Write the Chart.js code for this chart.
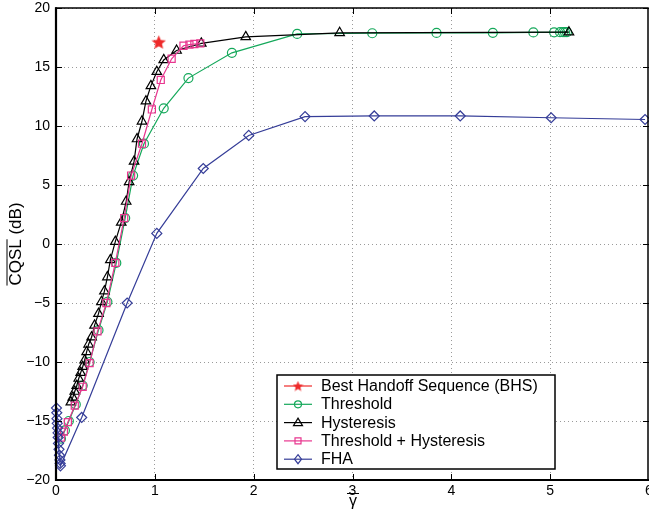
<!DOCTYPE html>
<html>
<head>
<meta charset="utf-8">
<script src="https://cdn.jsdelivr.net/npm/chart.js@4"></script>
<style>
  html, body { margin: 0; padding: 0; background: #fff; }
  canvas { display: block; }
</style>
</head>
<body>
<canvas id="cqslChart" width="649" height="515"></canvas>
<script>
// axis ticks
const xTicks = [0, 1, 2, 3, 4, 5, 6];
const yTicks = [-20, -15, -10, -5, 0, 5, 10, 15, 20];

// Best Handoff Sequence (BHS)
const bhsX = [1.04];
const bhsY = [17.1];

// Threshold
const thrX = [0.05, 0.09, 0.13, 0.20, 0.27, 0.34, 0.43, 0.52, 0.61, 0.70, 0.78, 0.89, 1.09, 1.34, 1.78, 2.44, 3.20, 3.85, 4.42, 4.83, 5.04, 5.10, 5.13, 5.15, 5.17];
const thrY = [-16.5, -15.8, -15.0, -13.6, -12.0, -10.0, -7.3, -4.9, -1.6, 2.2, 5.8, 8.5, 11.5, 14.06, 16.2, 17.8, 17.86, 17.89, 17.9, 17.93, 17.94, 17.95, 17.95, 17.95, 17.95];

// Hysteresis
const hysX = [0.15, 0.17, 0.19, 0.21, 0.23, 0.25, 0.27, 0.29, 0.31, 0.33, 0.36, 0.39, 0.43, 0.46, 0.49, 0.52, 0.55, 0.60, 0.66, 0.71, 0.74, 0.79, 0.82, 0.87, 0.91, 0.96, 1.02, 1.09, 1.22, 1.47, 1.92, 2.87, 5.19];
const hysY = [-13.4, -13.0, -12.5, -12.0, -11.4, -10.9, -10.4, -9.85, -9.15, -8.5, -7.9, -6.9, -5.9, -4.9, -4.0, -2.8, -1.35, 0.2, 1.83, 3.6, 5.26, 7.0, 8.9, 10.4, 12.1, 13.4, 14.6, 15.6, 16.4, 17.0, 17.55, 17.9, 17.95];

// Threshold + Hysteresis
const thhX = [0.05, 0.08, 0.12, 0.19, 0.27, 0.34, 0.42, 0.51, 0.60, 0.69, 0.76, 0.87, 0.97, 1.06, 1.17, 1.29, 1.35, 1.40, 1.46];
const thhY = [-16.4, -15.9, -15.1, -13.7, -12.1, -10.1, -7.4, -5.0, -1.6, 2.2, 5.8, 8.5, 11.4, 13.9, 15.7, 16.8, 16.9, 16.95, 17.0];

// FHA
const fhaX = [0.005, 0.008, 0.01, 0.012, 0.015, 0.02, 0.022, 0.025, 0.03, 0.035, 0.04, 0.042, 0.045, 0.26, 0.72, 1.02, 1.49, 1.95, 2.52, 3.22, 4.09, 5.01, 5.96];
const fhaY = [-13.9, -14.3, -14.8, -15.2, -15.6, -16.0, -16.4, -16.9, -17.4, -17.9, -18.3, -18.6, -18.8, -14.7, -5.0, 0.9, 6.4, 9.2, 10.8, 10.85, 10.85, 10.7, 10.55];

const FONT = '"Liberation Sans", Arial, Helvetica, sans-serif';
const RED = '#ee2a2a';
const GREEN = '#14a85a';
const BLACK = '#000000';
const PINK = '#e8368f';
const BLUE = '#353d98';

function pts(xs, ys) {
  return xs.map((x, i) => ({ x: x, y: ys[i] }));
}

function makeStar(size, color) {
  const c = document.createElement('canvas');
  c.width = size;
  c.height = size;
  const g = c.getContext('2d');
  const R = size / 2, r = R * 0.45;
  g.fillStyle = color;
  g.beginPath();
  for (let i = 0; i < 10; i++) {
    const a = -Math.PI / 2 + i * Math.PI / 5;
    const rad = i % 2 ? r : R;
    g.lineTo(R + rad * Math.cos(a), R + rad * Math.sin(a) + 0.5);
  }
  g.closePath();
  g.fill();
  return c;
}
const starImg = makeStar(15, RED);
const starSmall = makeStar(11, RED);

function series(label, data, color, style, radius, order) {
  return {
    label: label,
    data: data,
    showLine: true,
    borderColor: color,
    borderWidth: 1.2,
    pointStyle: style,
    pointRadius: radius,
    pointBorderColor: color,
    pointBackgroundColor: 'rgba(0,0,0,0)',
    pointBorderWidth: 1.2,
    clip: false,
    order: order,
  };
}

function drawMarker(ctx, style, x, y, color) {
  ctx.save();
  ctx.strokeStyle = color;
  ctx.lineWidth = 1.2;
  ctx.beginPath();
  if (style === 'circle') {
    ctx.arc(x, y, 3.5, 0, Math.PI * 2);
  } else if (style === 'triangle') {
    ctx.moveTo(x, y - 4.5);
    ctx.lineTo(x + 4.5, y + 3);
    ctx.lineTo(x - 4.5, y + 3);
    ctx.closePath();
  } else if (style === 'rect') {
    ctx.rect(x - 3, y - 3, 6, 6);
  } else if (style === 'diamond') {
    ctx.moveTo(x, y - 4.5);
    ctx.lineTo(x + 3.5, y);
    ctx.lineTo(x, y + 4.5);
    ctx.lineTo(x - 3.5, y);
    ctx.closePath();
  }
  ctx.stroke();
  ctx.restore();
}

const legendItems = [
  { text: 'Best Handoff Sequence (BHS)', color: RED, style: 'star' },
  { text: 'Threshold', color: GREEN, style: 'circle' },
  { text: 'Hysteresis', color: BLACK, style: 'triangle' },
  { text: 'Threshold + Hysteresis', color: PINK, style: 'rect' },
  { text: 'FHA', color: BLUE, style: 'diamond' },
];

// stretch the plot box to the right edge of the canvas (x = 6 sits at the edge)
const stretchPlugin = {
  id: 'stretch',
  afterLayout(chart) {
    const a = chart.chartArea;
    a.right = chart.width;
    a.width = a.right - a.left;
    const xs = chart.scales.x;
    xs.right = chart.width;
    xs.width = xs.right - xs.left;
    xs.configure();
  },
};

const framePlugin = {
  id: 'frame',
  afterDraw(chart) {
    const ctx = chart.ctx;
    const a = chart.chartArea;
    const xs = chart.scales.x, ys = chart.scales.y;
    ctx.save();

    // inward tick marks
    ctx.strokeStyle = '#000';
    ctx.lineWidth = 1;
    ctx.beginPath();
    xTicks.forEach(v => {
      const px = Math.round(xs.getPixelForValue(v)) + 0.5;
      ctx.moveTo(px, a.bottom); ctx.lineTo(px, a.bottom - 6);
      ctx.moveTo(px, a.top); ctx.lineTo(px, a.top + 6);
    });
    yTicks.forEach(v => {
      const py = Math.round(ys.getPixelForValue(v)) + 0.5;
      ctx.moveTo(a.left, py); ctx.lineTo(a.left + 6, py);
      ctx.moveTo(a.right, py); ctx.lineTo(a.right - 6, py);
    });
    ctx.stroke();

    // box
    ctx.lineWidth = 1.5;
    ctx.strokeRect(a.left, a.top, a.right - 1 - a.left, a.bottom - a.top);
    ctx.lineWidth = 2.2;
    ctx.beginPath();
    ctx.moveTo(a.left, a.top - 0.7); ctx.lineTo(a.left, a.bottom);
    ctx.lineTo(a.right, a.bottom);
    ctx.stroke();

    // legend
    const lx = 277, ly = 375, lw = 278, lh = 94;
    ctx.fillStyle = '#fff';
    ctx.fillRect(lx, ly, lw, lh);
    ctx.lineWidth = 1.5;
    ctx.strokeStyle = '#000';
    ctx.strokeRect(lx, ly, lw, lh);
    ctx.font = '16px ' + FONT;
    ctx.textBaseline = 'middle';
    ctx.textAlign = 'left';
    legendItems.forEach((it, i) => {
      const y = 386 + i * 18.3;
      ctx.strokeStyle = it.color;
      ctx.lineWidth = 1.2;
      ctx.beginPath();
      ctx.moveTo(284, y); ctx.lineTo(312, y);
      ctx.stroke();
      if (it.style === 'star') {
        ctx.drawImage(starSmall, 298 - 5.5, y - 5.5);
      } else {
        drawMarker(ctx, it.style, 298, y, it.color);
      }
      ctx.fillStyle = '#000';
      ctx.fillText(it.text, 321, y + 0.5);
    });

    // y axis title with overline on CQSL
    ctx.save();
    ctx.translate(16, 244);
    ctx.rotate(-Math.PI / 2);
    ctx.font = '17px ' + FONT;
    ctx.fillStyle = '#000';
    ctx.textBaseline = 'middle';
    ctx.textAlign = 'left';
    const full = 'CQSL (dB)';
    const w = ctx.measureText(full).width;
    const wc = ctx.measureText('CQSL').width;
    ctx.fillText(full, -w / 2, 0);
    ctx.strokeStyle = '#000';
    ctx.lineWidth = 1;
    ctx.beginPath();
    ctx.moveTo(-w / 2, -9); ctx.lineTo(-w / 2 + wc, -9);
    ctx.stroke();
    ctx.restore();

    // x axis title: gamma with overline
    ctx.font = '16px ' + FONT;
    ctx.fillStyle = '#000';
    ctx.textAlign = 'center';
    ctx.textBaseline = 'alphabetic';
    ctx.fillText('γ', 353, 506);
    ctx.strokeStyle = '#000';
    ctx.lineWidth = 1;
    ctx.beginPath();
    ctx.moveTo(347, 493.5); ctx.lineTo(359, 493.5);
    ctx.stroke();

    ctx.restore();
  },
};

const ctx = document.getElementById('cqslChart').getContext('2d');
const cqslChart = new Chart(ctx, {
  type: 'scatter',
  data: {
    datasets: [
      {
        label: 'Best Handoff Sequence (BHS)',
        data: pts(bhsX, bhsY),
        showLine: false,
        pointStyle: starImg,
        pointRadius: 7,
        borderColor: RED,
        backgroundColor: RED,
        clip: false,
        order: 0,
      },
      series('Threshold', pts(thrX, thrY), GREEN, 'circle', 4.5, 4),
      series('Hysteresis', pts(hysX, hysY), BLACK, 'triangle', 5.5, 3),
      series('Threshold + Hysteresis', pts(thhX, thhY), PINK, 'rect', 5, 2),
      series('FHA', pts(fhaX, fhaY), BLUE, 'rectRot', 5, 1),
    ],
  },
  options: {
    responsive: false,
    animation: false,
    devicePixelRatio: 1,
    layout: { padding: { top: 8, right: 0, left: 0, bottom: 0 } },
    plugins: {
      legend: { display: false },
      tooltip: { enabled: false },
    },
    scales: {
      x: {
        type: 'linear',
        min: 0,
        max: 6,
        afterFit: (scale) => {
          scale.height = 35;
          scale.paddingLeft = 0;
          scale.paddingRight = 0;
        },
        afterBuildTicks: (scale) => { scale.ticks = xTicks.map(v => ({ value: v })); },
        grid: { color: '#9a9a9a', lineWidth: 1, drawTicks: false },
        border: { display: false, dash: [1, 3] },
        ticks: {
          padding: 3,
          color: '#000',
          font: { family: FONT, size: 14 },
        },
      },
      y: {
        min: -20,
        max: 20,
        afterFit: (scale) => {
          scale.width = 56;
          scale.paddingTop = 0;
          scale.paddingBottom = 0;
        },
        afterBuildTicks: (scale) => { scale.ticks = yTicks.map(v => ({ value: v })); },
        grid: { color: '#9a9a9a', lineWidth: 1, drawTicks: false },
        border: { display: false, dash: [1, 3] },
        ticks: {
          padding: 6,
          color: '#000',
          font: { family: FONT, size: 14 },
          callback: (v) => String(v).replace('-', '\u2212'),
        },
      },
    },
  },
  plugins: [stretchPlugin, framePlugin],
});
</script>
</body>
</html>
